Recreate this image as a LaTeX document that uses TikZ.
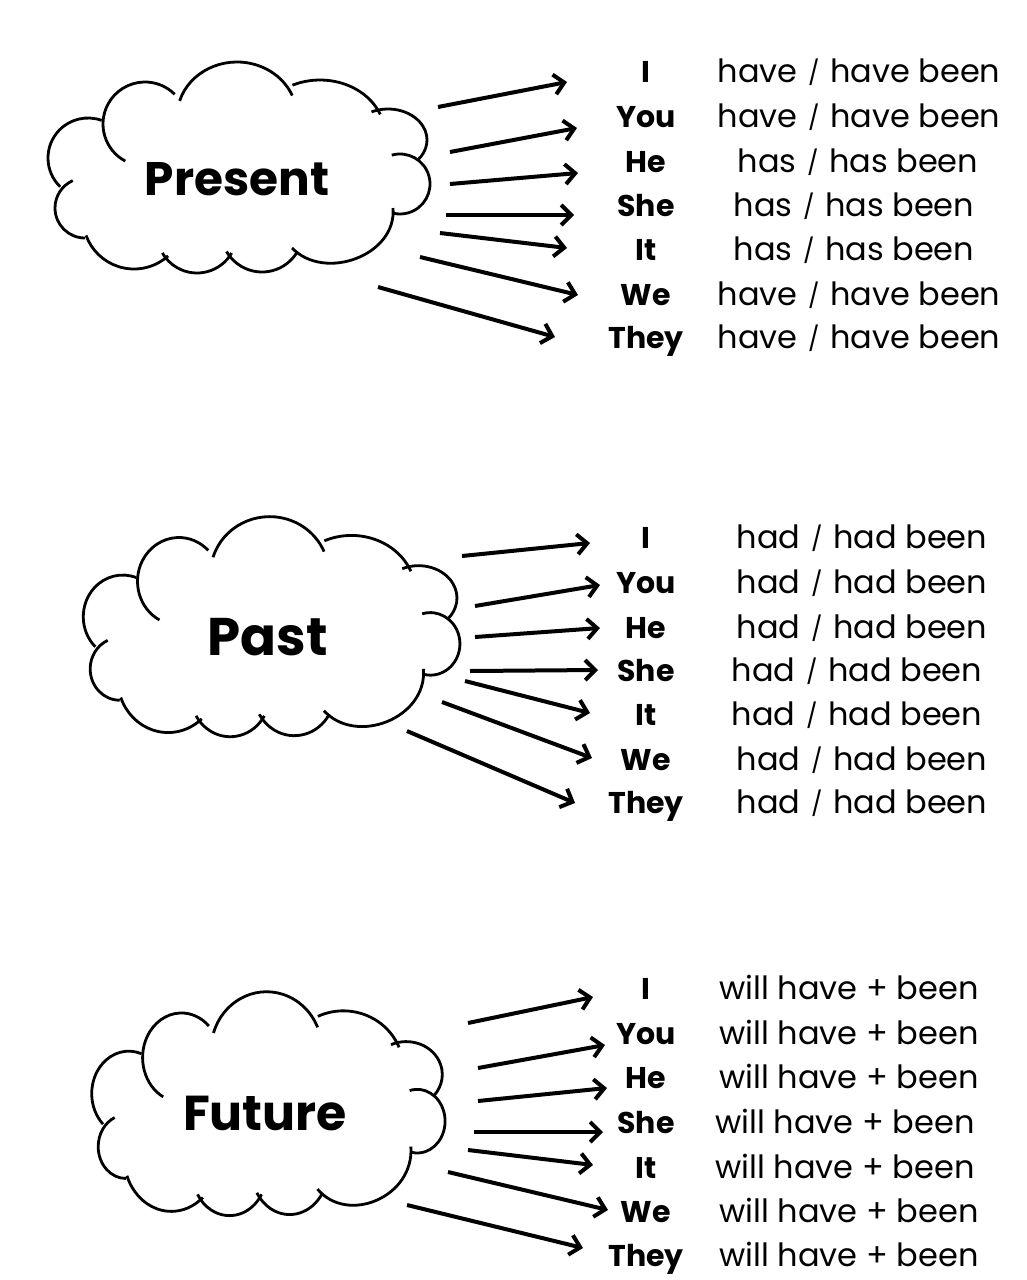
\documentclass[tikz,border=0pt]{standalone}
\usepackage{fontspec}
\setmainfont{Poppins}
\usetikzlibrary{arrows.meta}
\newcommand\cbump[5]{\draw[cl] (#1) ++(#2:#4 and #5) arc[start angle=#2,end angle=#3,x radius=#4,y radius=#5];}
\newcommand\drawcloud{%
  \cbump{-94,-44}{118}{315}{42}{42}
  \cbump{-2,-51}{197}{337}{60}{55}
  \cbump{81,-33}{245}{338}{65}{55}
  \cbump{149,-28}{245}{400}{39}{31}
  \cbump{161,16}{254}{463}{30}{30}
  \draw[cl] (154,40) .. controls (158,87) and (86,114) .. (53,80);
  \cbump{23,63}{30}{150}{41}{41}
  \cbump{-42,65}{30}{150}{40}{40}
  \cbump{-105,50}{48}{160}{51}{51}
  \cbump{-154,40}{90}{246}{30}{30}
  \cbump{-151,-10}{134}{290}{40}{40}
}
\newcommand\sls{\hspace{2pt}\raisebox{1pt}{\fontsize{24}{24}\selectfont/}\hspace{2pt}}
\newcommand\hv{have \sls{} have been}
\newcommand\hs{has \sls{} has been}
\newcommand\hd{had \sls{} had been}
\begin{document}
\begin{tikzpicture}[x=1pt,y=-1pt,
  cl/.style={line width=2.8pt,black},
  arr/.style={line width=4pt,black,-{Straight Barb[length=10pt,width=20pt]}},
  pron/.style={font=\fontsize{30}{30}\selectfont\bfseries,inner sep=0pt,anchor=base},
  form/.style={font=\fontsize{32}{32}\selectfont,inner sep=0pt,anchor=base},
  ttl/.style={inner sep=0pt,anchor=base}]
\useasboundingbox (0,0) rectangle (1027,1280);
\fill[white] (0,0) rectangle (1027,1280);

% ---------- Present ----------
\begin{scope}[shift={(239,168)}]\drawcloud\end{scope}
\node[ttl,font=\fontsize{47}{47}\selectfont\bfseries] (tPresent) at (237,195) {Present};
\foreach \n/\t/\y in {1/I/82.5,2/You/127.5,3/He/172,4/She/216.5,5/It/260.5,6/We/305,7/They/348.5}
  \node[pron] (ap\n) at (646,\y) {\t};
\foreach \n/\t/\x/\y in {1/\hv/859/82.5,2/\hv/859/127.5,3/\hs/858/172,4/\hs/854/216.5,5/\hs/854/260.5,6/\hv/859/305,7/\hv/859/348.5}
  \node[form] (af\n) at (\x,\y) {\t};
\foreach \n/\sx/\sy/\ex/\ey in {1/438/107/567/82,2/450/152/577/128,3/450/184/578/173,4/446/215/574/215,5/440/233/567/248,6/420/257/578/295,7/378/287/555/337}
  {\coordinate (as\n) at (\sx,\sy); \coordinate (ae\n) at (\ex,\ey); \draw[arr] (as\n) -- (ae\n);}

% ---------- Past ----------
\begin{scope}[shift={(271.6,627.2)},xscale=0.986,yscale=1.043]\drawcloud\end{scope}
\node[ttl,font=\fontsize{53}{53}\selectfont\bfseries] (tPast) at (268,655) {Past};
\foreach \n/\x/\y in {1/862/548.3,2/862/593.3,3/862/638.3,4/857/681.7,5/857/725,6/862/770,7/862/813.3}
  \node[form] (bf\n) at (\x,\y) {\hd};
\foreach \n/\t/\y in {1/I/548.3,2/You/593.3,3/He/638.3,4/She/681.7,5/It/725,6/We/770,7/They/813.3}
  \node[pron] (bp\n) at (646,\y) {\t};
\foreach \n/\sx/\sy/\ex/\ey in {1/462/556/590/543,2/475/606/600/585,3/475/637/600/628,4/470/671/598/670,5/465/681/590/713,6/442/702/592/758,7/407/731/575/803}
  {\coordinate (bs\n) at (\sx,\sy); \coordinate (be\n) at (\ex,\ey); \draw[arr] (bs\n) -- (be\n);}

% ---------- Future ----------
\begin{scope}[shift={(268.4,1104.2)},xscale=0.925,yscale=1.061]\drawcloud\end{scope}
\node[ttl,font=\fontsize{49}{49}\selectfont\bfseries] (tFuture) at (265,1130) {Future};
\foreach \n/\t/\y in {1/I/999,2/You/1044,3/He/1088,4/She/1133,5/It/1178,6/We/1222.5,7/They/1266.7}
  \node[pron] (cp\n) at (646,\y) {\t};
\foreach \n/\x/\y in {1/849/999,2/849/1044,3/849/1088,4/845/1133,5/845/1178,6/849/1222.5,7/849/1266.7}
  \node[form] (cf\n) at (\x,\y) {will have + been};
\foreach \n/\sx/\sy/\ex/\ey in {1/468/1023/593/997,2/478/1068/605/1045,3/478/1101/607/1088,4/474/1132/603/1132,5/468/1150/593/1165,6/448/1172/608/1210,7/407/1205/583/1248}
  {\coordinate (cs\n) at (\sx,\sy); \coordinate (ce\n) at (\ex,\ey); \draw[arr] (cs\n) -- (ce\n);}
\end{tikzpicture}
\end{document}
